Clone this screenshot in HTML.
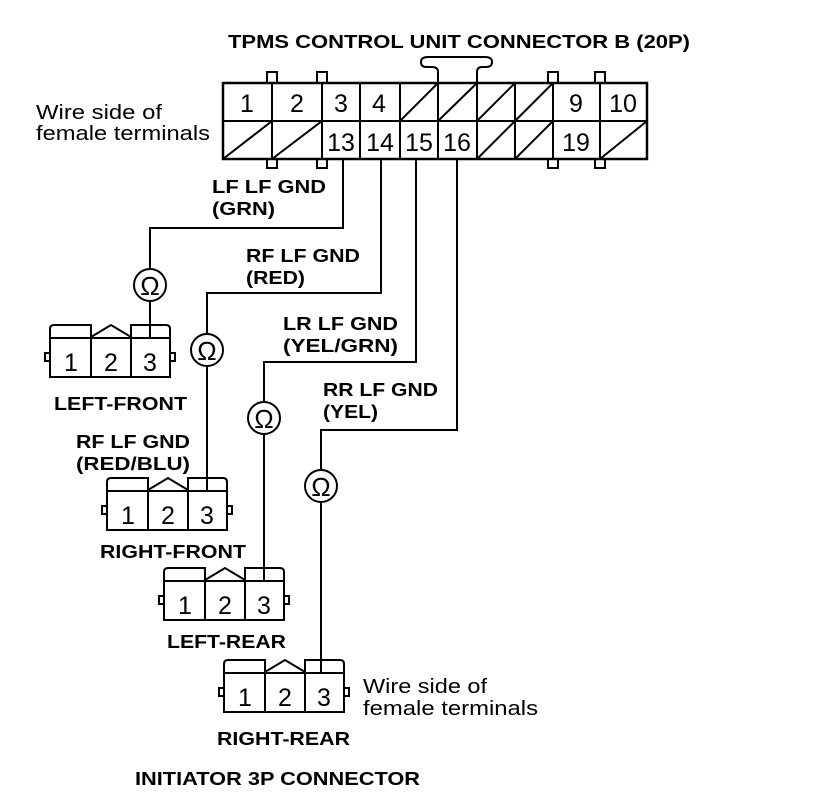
<!DOCTYPE html>
<html><head><style>
body{margin:0;background:#fff}
svg{display:block}
text{font-family:"Liberation Sans",sans-serif;fill:#000}
.b{font-weight:bold;font-size:18px}
.n{font-size:25px}
.r{font-size:20px}
</style></head><body>
<svg width="816" height="810" viewBox="0 0 816 810" xmlns="http://www.w3.org/2000/svg">
<defs>
<g id="c3" fill="none" stroke="#000" stroke-width="2">
 <path d="M7,14 V4 Q7,0 11,0 H48 V14"/>
 <path d="M48,12 L68,0 L88,12"/>
 <path d="M88,14 V0 H123 Q127,0 127,4 V14"/>
 <rect x="7" y="13" width="120" height="39" fill="#fff"/>
 <line x1="48" y1="13" x2="48" y2="52"/>
 <line x1="88" y1="13" x2="88" y2="52"/>
 <path d="M7,28 H2 V36 H7"/>
 <path d="M127,28 H132 V36 H127"/>
</g>
</defs>
<text class="b" x="228" y="48" textLength="462" lengthAdjust="spacingAndGlyphs">TPMS CONTROL UNIT CONNECTOR B (20P)</text>
<text class="r" x="36" y="119" textLength="126" lengthAdjust="spacingAndGlyphs">Wire side of</text>
<text class="r" x="36" y="140" textLength="174" lengthAdjust="spacingAndGlyphs">female terminals</text>
<g fill="none" stroke="#000" stroke-width="2">
 <path d="M438,83 V72 Q438,67 432,67 H426 Q421,67 421,62 Q421,57 428,57 H485 Q492,57 492,62 Q492,67 486,67 H482 Q477,67 477,72 V83"/>
 <rect x="267" y="72" width="10" height="11"/><rect x="317" y="72" width="10" height="11"/>
 <rect x="548" y="72" width="10" height="11"/><rect x="595" y="72" width="10" height="11"/>
 <rect x="267" y="159" width="10" height="9"/><rect x="317" y="159" width="10" height="9"/>
 <rect x="548" y="159" width="10" height="9"/><rect x="595" y="159" width="10" height="9"/>
 <rect x="223" y="83" width="424" height="76" stroke-width="2.5"/>
 <line x1="223" y1="121" x2="647" y2="121"/>
 <path d="M272,83V159 M322,83V159 M360,83V159 M400,83V159 M438,83V159 M477,83V159 M515,83V159 M553,83V159 M600,83V159"/>
 <path d="M400,121 L438,83 M438,121 L477,83 M477,121 L515,83 M515,121 L553,83"/>
 <path d="M223,159 L272,121 M272,159 L322,121 M477,159 L515,121 M515,159 L553,121 M600,159 L647,121"/>
</g>
<g class="n" text-anchor="middle">
 <text x="247" y="112">1</text><text x="297" y="112">2</text><text x="341" y="112">3</text><text x="379" y="112">4</text>
 <text x="576" y="112">9</text><text x="623" y="112">10</text>
 <text x="341" y="151">13</text><text x="380" y="151">14</text><text x="419" y="151">15</text><text x="457" y="151">16</text>
 <text x="576" y="151">19</text>
</g>
<g fill="none" stroke="#000" stroke-width="2">
 <path d="M343,159 V228 H150 V269 M150,301 V339"/>
 <path d="M381,159 V293 H207 V334 M207,366 V492"/>
 <path d="M416,159 V362 H264 V402 M264,434 V582"/>
 <path d="M457,159 V430 H321 V470 M321,502 V674"/>
 <circle cx="150" cy="285" r="16"/><circle cx="207" cy="350" r="16"/>
 <circle cx="264" cy="418" r="16"/><circle cx="321" cy="486" r="16"/>
</g>
<g font-size="26" text-anchor="middle">
 <text x="150" y="295">Ω</text><text x="207" y="360">Ω</text><text x="264" y="428">Ω</text><text x="321" y="496">Ω</text>
</g>
<use href="#c3" x="43" y="325"/><use href="#c3" x="100" y="478"/>
<use href="#c3" x="157" y="568"/><use href="#c3" x="217" y="660"/>
<g class="n" text-anchor="middle">
 <text x="71" y="371">1</text><text x="111" y="371">2</text><text x="150" y="371">3</text>
 <text x="128" y="524">1</text><text x="168" y="524">2</text><text x="207" y="524">3</text>
 <text x="185" y="614">1</text><text x="225" y="614">2</text><text x="264" y="614">3</text>
 <text x="245" y="706">1</text><text x="285" y="706">2</text><text x="324" y="706">3</text>
</g>
<g class="b">
 <text x="212" y="193" textLength="114" lengthAdjust="spacingAndGlyphs">LF LF GND</text><text x="212" y="215" textLength="63" lengthAdjust="spacingAndGlyphs">(GRN)</text>
 <text x="246" y="262" textLength="114" lengthAdjust="spacingAndGlyphs">RF LF GND</text><text x="246" y="284" textLength="59" lengthAdjust="spacingAndGlyphs">(RED)</text>
 <text x="283" y="330" textLength="115" lengthAdjust="spacingAndGlyphs">LR LF GND</text><text x="283" y="352" textLength="115" lengthAdjust="spacingAndGlyphs">(YEL/GRN)</text>
 <text x="323" y="396" textLength="115" lengthAdjust="spacingAndGlyphs">RR LF GND</text><text x="323" y="418" textLength="55" lengthAdjust="spacingAndGlyphs">(YEL)</text>
 <text x="54" y="410" textLength="133" lengthAdjust="spacingAndGlyphs">LEFT-FRONT</text>
 <text x="76" y="448" textLength="114" lengthAdjust="spacingAndGlyphs">RF LF GND</text><text x="76" y="470" textLength="114" lengthAdjust="spacingAndGlyphs">(RED/BLU)</text>
 <text x="100" y="558" textLength="146" lengthAdjust="spacingAndGlyphs">RIGHT-FRONT</text>
 <text x="167" y="648" textLength="119" lengthAdjust="spacingAndGlyphs">LEFT-REAR</text>
 <text x="217" y="745" textLength="133" lengthAdjust="spacingAndGlyphs">RIGHT-REAR</text>
 <text x="135" y="785" textLength="285" lengthAdjust="spacingAndGlyphs">INITIATOR 3P CONNECTOR</text>
</g>
<text class="r" x="363" y="693" textLength="124" lengthAdjust="spacingAndGlyphs">Wire side of</text>
<text class="r" x="363" y="715" textLength="175" lengthAdjust="spacingAndGlyphs">female terminals</text>
</svg>
</body></html>
